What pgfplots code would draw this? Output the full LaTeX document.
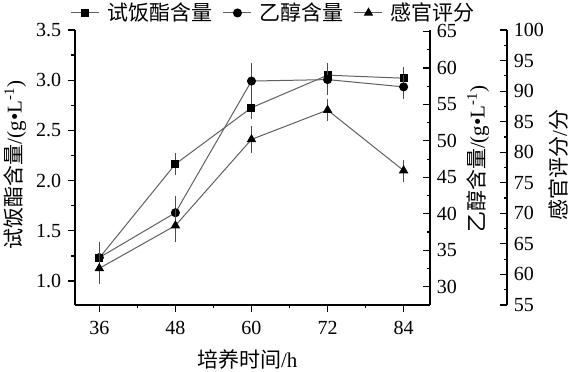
\documentclass[border=0pt]{standalone}
\usepackage{pgfplots}
\pgfplotsset{compat=1.18}
\usepackage{fontspec}
\setmainfont{Liberation Serif}
\newfontfamily\cjk{Noto Sans CJK SC}
\begin{document}
\fontsize{20pt}{24pt}\selectfont
\begin{tikzpicture}
\path[use as bounding box] (0,0) rectangle (571pt,372pt);
\pgfplotsset{
  base/.style={
    scale only axis, width=355pt, height=275pt,
    at={(75pt,67pt)}, anchor=south west,
    xmin=32.16, xmax=88.16,
    /pgf/number format/assume math mode=true,
    tick label style={font=\fontsize{20pt}{24pt}\selectfont},
    label style={font=\fontsize{21pt}{24pt}\selectfont},
    axis line style={line width=1.6pt, black},
    major tick length=7pt, minor tick length=3.5pt,
    every tick/.style={black, line width=1.2pt},
    clip=false,
  },
  ser/.style={gray!75!black, line width=1pt, mark options={black, solid, fill=black}},
}
% main axis: ester content
\begin{axis}[base,
  axis x line*=bottom, axis y line*=left,
  tick align=outside,
  ymin=0.761, ymax=3.5,
  ytick={1,1.5,2,2.5,3,3.5}, minor y tick num=1,
  xtick={36,48,60,72,84}, minor x tick num=1,
  yticklabel style={/pgf/number format/.cd, fixed, fixed zerofill, precision=1},
  xticklabel style={yshift=-2pt},
  xlabel={{\cjk 培养时间}/h},
  ylabel={{\cjk 试饭酯含量}/(g•L\textsuperscript{-1})},
  ylabel style={at={(axis description cs:-0.169,0.509)}, anchor=center},
  xlabel style={at={(axis description cs:0.485,-0.2)}, anchor=center},
]
\addplot[ser, mark=square*, mark size=3.5pt,
  error bars/y dir=both, error bars/y explicit,
  error bars/error bar style={gray!60!black, line width=1pt},
  error bars/error mark options={gray!60!black, mark size=4pt, line width=1pt}]
  table[x=x, y=y, y error=e] {
x y e
36 1.23 0.12
48 2.165 0.07
60 2.726 0.075
72 3.05 0.08
84 3.02 0.07
};
\end{axis}
% ethanol axis
\begin{axis}[base,
  axis x line=none, axis y line*=right, tick align=inside,
  ymin=27.5, ymax=65.2, ytick={30,35,40,45,50,55,60,65}, minor y tick num=1,
  ylabel={{\cjk 乙醇含量}/(g•L\textsuperscript{-1})},
  ylabel style={at={(axis description cs:1.135,0.53)}, anchor=center},
]
\addplot[ser, mark=*, mark size=4pt,
  error bars/y dir=both, error bars/y explicit,
  error bars/error bar style={gray!60!black, line width=1pt},
  error bars/error mark options={gray!60!black, mark size=4pt, line width=1pt}]
  table[x=x, y=y, y error=e] {
x y e
36 34.0 1.6
48 40.15 1.7
60 58.2 1.9
72 58.4 1.6
84 57.4 1.1
};
\end{axis}
% sensory axis
\begin{axis}[base, width=432pt, xmin=32.16, xmax=100.31,
  axis x line=none, axis y line*=right, tick align=inside,
  ymin=55, ymax=100, ytick={55,60,65,70,75,80,85,90,95,100}, minor y tick num=1,
  ylabel={{\cjk 感官评分}/{\cjk 分}},
  ylabel style={at={(axis description cs:1.12,0.509)}, anchor=center},
  legend style={at={(axis description cs:0.4606,1.062)}, anchor=center,
    draw=none, fill=none, inner sep=0pt, legend columns=3,
    font=\fontsize{21pt}{24pt}\selectfont\cjk,
    /tikz/every odd column/.append style={column sep=6pt},
    /tikz/every even column/.append style={column sep=8pt}},
  legend image code/.code={\draw[#1, mark repeat=2, mark phase=2] plot coordinates {(0pt,0pt) (14pt,0pt) (28pt,0pt)};},
]
\addlegendimage{ser, mark=square*, mark size=3.5pt}
\addlegendentry{试饭酯含量}
\addlegendimage{ser, mark=*, mark size=4pt}
\addlegendentry{乙醇含量}
\addlegendimage{ser, mark=triangle*, mark size=4.5pt}
\addlegendentry{感官评分}
\addplot[ser, mark=triangle*, mark size=4.5pt, forget plot,
  error bars/y dir=both, error bars/y explicit,
  error bars/error bar style={gray!60!black, line width=1pt},
  error bars/error mark options={gray!60!black, mark size=4pt, line width=1pt}]
  table[x=x, y=y, y error=e] {
x y e
36 61.0 1.9
48 68.0 2.0
60 82.1 1.6
72 86.9 1.2
84 77.0 1.15
};
\end{axis}
\end{tikzpicture}
\end{document}
